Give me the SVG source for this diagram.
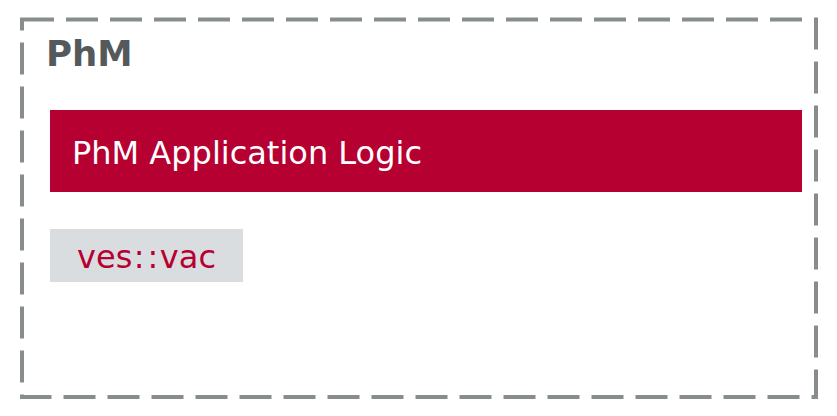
<svg xmlns="http://www.w3.org/2000/svg" width="837" height="416" viewBox="0 0 837 416">
<style>
.frame{fill:none;stroke:#878d8d;stroke-width:4;stroke-dasharray:32 12}
.title{font-family:"DejaVu Sans",Verdana,sans-serif;font-weight:bold;font-size:35.5px;fill:#54595c}
.lbl{font-family:"DejaVu Sans",Verdana,sans-serif;font-size:32px}
</style>
<rect width="837" height="416" fill="#ffffff"/>
<g id="phm">
<rect class="frame" x="22" y="19.5" width="794" height="377.5"/>
<text class="title" x="46" y="66">PhM</text>
</g>
<g id="app-logic">
<rect x="50" y="110" width="752" height="82" fill="#b60031"/>
<text class="lbl" x="72" y="164" fill="#ffffff">PhM Application Logic</text>
</g>
<g id="ves-vac">
<rect x="50" y="229" width="193" height="53" fill="#dadde0"/>
<text class="lbl" x="77" y="268" fill="#b60031">ves<tspan dx="1.5">:</tspan><tspan dx="3">:</tspan><tspan dx="1.5">vac</tspan></text>
</g>
<g id="connectors"/>
</svg>
